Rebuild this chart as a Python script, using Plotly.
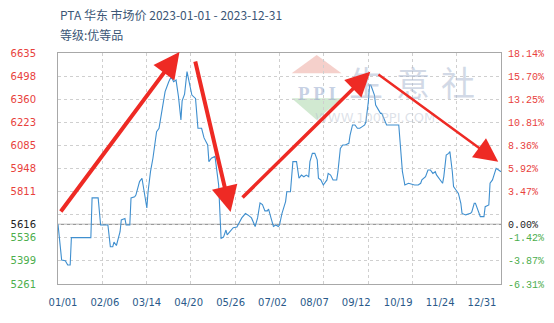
import plotly.graph_objects as go

# ---------------- data ----------------
day_index = [0, 1, 3, 6, 8, 10, 11, 27, 28, 33, 35, 41, 43, 45, 46, 48, 51, 52, 55, 56,
             59, 60, 63, 64, 67, 69, 71, 73, 74, 76, 78, 81, 83, 85, 88, 91, 93, 95, 97, 99,
             101, 102, 104, 106, 108, 110, 113, 115, 118, 120, 123, 124, 126, 129, 132, 133, 134, 136, 138, 139,
             141, 144, 147, 148, 151, 154, 156, 159, 162, 164, 166, 168, 170, 172, 173, 175, 177, 179, 181, 182,
             184, 187, 188, 191, 192, 193, 196, 198, 200, 202, 204, 206, 207, 209, 211, 213, 214, 216, 218, 221,
             222, 224, 226, 229, 230, 232, 234, 236, 239, 240, 242, 244, 246, 248, 250, 252, 253, 255, 256, 257,
             258, 260, 261, 263, 265, 266, 268, 270, 280, 281, 282, 283, 284, 285, 288, 293, 296, 298, 299, 302,
             304, 306, 308, 310, 311, 314, 316, 317, 319, 321, 322, 324, 325, 327, 329, 331, 332, 335, 339, 340,
             342, 343, 344, 346, 347, 350, 351, 354, 355, 357, 358, 359, 360, 362, 364]
price = [5616, 5537, 5404, 5400, 5374, 5374, 5537, 5537, 5773, 5773, 5612, 5612, 5483, 5483, 5510, 5490, 5572, 5642, 5650, 5612,
         5612, 5773, 5780, 5790, 5870, 5890, 5810, 5713, 5810, 5929, 6009, 6167, 6187, 6286, 6405, 6464, 6494, 6464, 6474, 6375,
         6237, 6350, 6390, 6524, 6464, 6385, 6365, 6187, 6187, 6130, 6088, 5989, 6009, 6020, 5850, 5672, 5533, 5540, 5582, 5553,
         5572, 5596, 5600, 5612, 5654, 5680, 5672, 5654, 5603, 5654, 5743, 5733, 5696, 5696, 5706, 5654, 5603, 5612, 5603, 5612,
         5680, 5751, 5810, 5810, 5890, 5989, 5989, 5890, 5909, 5899, 5909, 5899, 5989, 6038, 6038, 5999, 5890, 5880, 5850, 5880,
         5919, 5909, 5880, 5880, 5929, 6068, 6088, 6088, 6098, 6147, 6207, 6207, 6187, 6187, 6197, 6207, 6226, 6345, 6445, 6445,
         6425, 6385, 6326, 6296, 6276, 6276, 6246, 6207, 6207, 6107, 5989, 5929, 5890, 5850, 5860, 5850, 5850, 5860, 5880, 5899,
         5939, 5939, 5919, 5929, 5910, 5880, 5860, 5900, 6028, 6038, 6048, 5929, 5840, 5820, 5800, 5741, 5681, 5672, 5681, 5690,
         5741, 5741, 5721, 5672, 5662, 5662, 5721, 5731, 5860, 5880, 5899, 5919, 5949, 5939, 5929]

x_tick_days = [0, 36.4, 72.8, 109.2, 145.6, 182, 218.4, 254.8, 291.2, 327.6, 364]
x_tick_labels = ["01/01", "02/06", "03/14", "04/20", "05/26", "07/02", "08/07", "09/12", "10/19", "11/24", "12/31"]

y_tick_values = [5261, 5398.4, 5535.8, 5616, 5673.2, 5810.6, 5948, 6085.4, 6222.8, 6360.2, 6497.6, 6635]
y_tick_labels = ["5261", "5399", "5536", "5616", "", "5811", "5948", "6085", "6223", "6360", "6498", "6635"]
pct_tick_labels = ["-6.31%", "-3.87%", "-1.42%", "0.00%", "", "3.47%", "5.92%", "8.36%", "10.81%", "13.25%", "15.70%", "18.14%"]

# trend arrows: tail/head positions (day, price) and stroke widths
arrow_tail_day = [1.4, 112.5, 150.4, 262.1]
arrow_tail_val = [5683, 6593, 5767, 6514]
arrow_head_day = [99.8, 141.8, 256.6, 361.7]
arrow_head_val = [6641, 5689, 6524, 5988]
arrow_widths = [4, 4, 3.5, 2.5]
arrow_sizes = [1.3, 1.3, 1.4, 1.9]

# watermark characters
watermark_chars = ["生", "意", "社"]
watermark_char_x = [0.738, 0.844, 0.946]

base = price[0]
y_min, y_max = 5261, 6635
RED, GREEN, BLACK = "#e8413c", "#4cae4c", "#222222"


def col(v):
    if abs(v - base) < 1e-6:
        return BLACK
    return RED if v > base else GREEN


left_text = [f'<span style="color:{col(v)}">{t}</span>' for v, t in zip(y_tick_values, y_tick_labels)]
right_text = [f'<span style="color:{col(v)}">{t}</span>' for v, t in zip(y_tick_values, pct_tick_labels)]

fig = go.Figure()
fig.add_trace(go.Scatter(x=day_index, y=price, mode="lines",
                         line=dict(color="#3f8fcf", width=1.1), hoverinfo="skip", showlegend=False))
# carrier for right-hand percentage axis
fig.add_trace(go.Scatter(x=[day_index[0]], y=[base], yaxis="y2", mode="markers",
                         marker=dict(opacity=0), hoverinfo="skip", showlegend=False))
# carrier for the date label axis
fig.add_trace(go.Scatter(x=[0, 10], y=[base, base], xaxis="x2", mode="markers",
                         marker=dict(opacity=0), hoverinfo="skip", showlegend=False))

grid = dict(showgrid=True, gridcolor="#cfcfcf", griddash="dot", gridwidth=1)

fig.update_layout(
    width=554, height=323,
    margin=dict(l=58, r=53, t=53, b=39),
    paper_bgcolor="white", plot_bgcolor="white",
    xaxis=dict(range=[0, 364], tickvals=x_tick_days, showticklabels=False, ticks="", automargin=False,
               showline=True, mirror=True, linecolor="#a8a8a8", linewidth=1, zeroline=False, **grid),
    xaxis2=dict(overlaying="x", side="bottom", range=[-0.119, 10.454], automargin=False, tickangle=0,
                tickvals=list(range(len(x_tick_labels))), ticktext=x_tick_labels,
                showgrid=False, zeroline=False, showline=False,
                ticks="outside", ticklen=9, tickcolor="rgba(0,0,0,0)",
                tickfont=dict(family="DejaVu Sans, Verdana", size=10, color="#2a5a8a")),
    yaxis=dict(range=[y_min, y_max], tickvals=y_tick_values, ticktext=left_text, automargin=False,
               showline=True, mirror=True, linecolor="#a8a8a8", zeroline=False,
               ticks="outside", ticklen=19, tickcolor="rgba(0,0,0,0)",
               tickfont=dict(family="DejaVu Sans, Verdana", size=10), **grid),
    yaxis2=dict(overlaying="y", side="right", range=[y_min, y_max], tickvals=y_tick_values, automargin=False,
                ticktext=right_text, showgrid=False, zeroline=False, showline=False,
                ticks="outside", ticklen=4, tickcolor="rgba(0,0,0,0)",
                tickfont=dict(family="Liberation Mono, DejaVu Sans Mono", size=10)),
    showlegend=False,
)

# base (0%) reference line
fig.add_shape(type="line", xref="paper", x0=0, x1=1, yref="y", y0=base, y1=base,
              line=dict(color="#9a9a9a", width=1.2), layer="below")

# watermark logo (PPI)
fig.add_shape(type="path", xref="paper", yref="paper",
              path="M 0.584 0.991 L 0.5275 0.912 L 0.640 0.912 Z",
              fillcolor="rgba(232,150,140,0.45)", line=dict(width=0), layer="below")
fig.add_shape(type="path", xref="paper", yref="paper",
              path="M 0.5275 0.804 L 0.640 0.804 L 0.584 0.710 Z",
              fillcolor="rgba(140,200,140,0.40)", line=dict(width=0), layer="below")
fig.add_annotation(xref="paper", yref="paper", x=0.584, y=0.88, text="<b>P P I</b>", showarrow=False,
                   font=dict(family="Liberation Serif, DejaVu Serif", size=19, color="rgba(150,170,205,0.55)"))
for ch, cx in zip(watermark_chars, watermark_char_x):
    fig.add_annotation(xref="paper", yref="paper", x=cx, y=0.99, text=ch, showarrow=False,
                       font=dict(family="Noto Sans CJK SC", size=34, color="rgba(165,180,205,0.50)"))
fig.add_annotation(xref="paper", yref="paper", x=0.855, y=0.76, text="WWW.100PPI.COM", showarrow=False,
                   font=dict(family="DejaVu Sans", size=13, color="rgba(180,190,205,0.45)"))

# titles
fig.add_annotation(xref="paper", yref="paper", x=0, y=1, yshift=39, xanchor="left", yanchor="middle",
                   text="PTA 华东 市场价 2023-01-01 - 2023-12-31", showarrow=False,
                   font=dict(family="Noto Sans CJK SC", size=12, color="#3b5676"))
fig.add_annotation(xref="paper", yref="paper", x=0, y=1, yshift=19, xanchor="left", yanchor="middle",
                   text="等级:优等品", showarrow=False,
                   font=dict(family="Noto Sans CJK SC", size=12, color="#3b5676"))

# red trend arrows
for tx, ty, hx, hy, w, s in zip(arrow_tail_day, arrow_tail_val, arrow_head_day, arrow_head_val,
                                arrow_widths, arrow_sizes):
    fig.add_annotation(x=hx, y=hy, ax=tx, ay=ty, xref="x", yref="y", axref="x", ayref="y",
                       text="", showarrow=True, arrowhead=2, arrowsize=s, arrowwidth=w,
                       arrowcolor="#ee2a24", standoff=0)

fig.write_html("out.html")
